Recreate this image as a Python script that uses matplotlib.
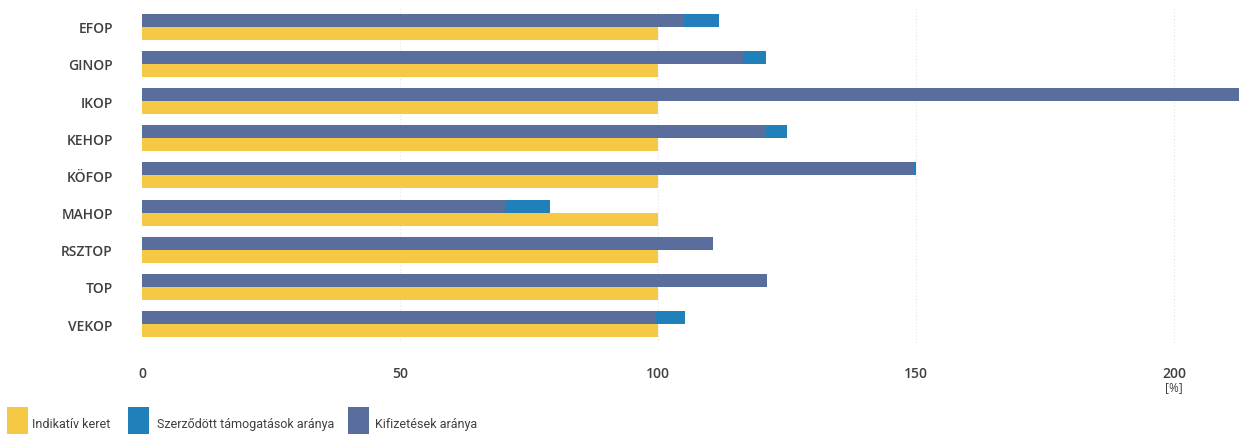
import matplotlib
matplotlib.use("Agg")
import matplotlib.pyplot as plt
from matplotlib.patches import Rectangle

programs = ["EFOP", "GINOP", "IKOP", "KEHOP", "KÖFOP", "MAHOP", "RSZTOP", "TOP", "VEKOP"]
indikativ_keret = [100, 100, 100, 100, 100, 100, 100, 100, 100]
szerzodott = [111.8, 121.0, 216.0, 125.0, 150.0, 79.0, 110.7, 121.2, 105.2]
kifizetesek = [105.0, 116.5, 216.0, 121.0, 149.6, 70.3, 110.7, 121.2, 99.6]
x_ticks = [0, 50, 100, 150, 200]
legend_labels = ["Indikatív keret", "Szerződött támogatások aránya", "Kifizetések aránya"]

c_yellow = "#F5C845"
c_blue = "#2180BA"
c_slate = "#5A6E9E"
c_text = "#3f3f3f"

fig = plt.figure(figsize=(12.39, 4.35), dpi=100)
ax = fig.add_axes([0.1146, 0.21, 0.8854, 0.769])

h = 0.35
ys = list(range(len(programs)))
ax.barh([y + h / 2 for y in ys], indikativ_keret, height=h, color=c_yellow, zorder=2)
ax.barh([y - h / 2 for y in ys], szerzodott, height=h, color=c_blue, zorder=2)
ax.barh([y - h / 2 for y in ys], kifizetesek, height=h, color=c_slate, zorder=3)

ax.set_xlim(0, 212.6)
ax.set_ylim(len(programs) - 0.5, -0.5)
for xv in x_ticks[1:]:
    ax.axvline(xv, color="#e4e4e4", lw=0.8, ls=(0, (1, 2)), zorder=1)

ax.set_yticks(ys)
ax.set_yticklabels(programs, fontfamily="Open Sans", fontweight="semibold",
                   fontsize=10, color=c_text)
ax.set_xticks(x_ticks)
ax.set_xticklabels([str(v) for v in x_ticks], fontfamily="Open Sans",
                   fontweight="semibold", fontsize=10, color=c_text)
ax.tick_params(axis="y", length=0, pad=21)
ax.tick_params(axis="x", length=0, pad=17)
for s in ax.spines.values():
    s.set_visible(False)

# unit label under the last tick
fig.text(1174 / 1239, 1 - 388 / 435, "[%]", ha="center", va="center",
         fontfamily="Open Sans", fontsize=8.5, color=c_text)

# legend swatches and labels
W, H = 1239, 435
legend_items = [
    (7, 32, c_yellow, legend_labels[0]),
    (128, 157, c_blue, legend_labels[1]),
    (348, 375, c_slate, legend_labels[2]),
]
for x0, tx, col, lab in legend_items:
    fig.add_artist(Rectangle((x0 / W, 0), 21 / W, 27 / H, transform=fig.transFigure,
                             color=col, lw=0))
    fig.text(tx / W, 1 - 425 / H, lab, ha="left", va="center",
             fontfamily="Roboto", fontsize=9, color=c_text)

fig.savefig("out.png", dpi=100, facecolor="white")
